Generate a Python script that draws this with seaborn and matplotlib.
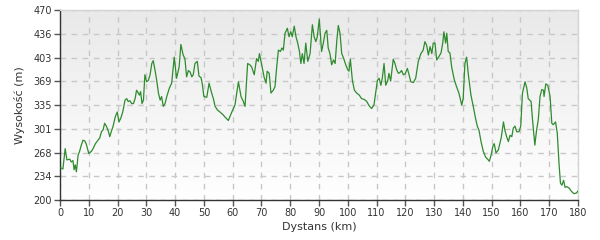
import numpy as np
import pandas as pd
import matplotlib
matplotlib.use("Agg")
import matplotlib.pyplot as plt
from matplotlib.colors import LinearSegmentedColormap
import seaborn as sns

dist_km = [
    0.2, 1.0, 1.8, 2.4, 3.4, 3.9, 4.5, 4.9, 5.3, 5.7, 6.3, 6.8, 7.4, 8.0, 8.6, 9.1, 10.0, 10.9, 11.5, 12.3,
    13.2, 13.8, 14.4, 15.0, 15.5, 16.1, 16.7, 17.3, 17.8, 18.4, 19.2, 19.9, 20.5,
    21.1, 21.8, 22.6, 23.2, 23.7, 24.3, 24.9, 25.5, 26.1, 26.6, 27.2, 27.6, 28.0, 28.5, 29.0, 29.5, 30.1,
    30.7, 31.3, 31.9, 32.4, 33.0, 33.6, 34.2, 34.8, 35.3, 35.9, 36.5, 37.1, 38.0,
    38.8, 39.7, 40.5, 41.4, 42.0, 42.8, 43.4, 44.0, 44.6, 45.2, 45.8, 46.3, 46.9, 47.7, 48.3, 49.0, 49.4,
    50.0, 51.0, 51.8, 52.7, 53.3, 53.9, 54.7, 55.6, 56.7,
    57.3, 58.5, 59.7, 60.8, 62.0, 62.9, 63.7, 64.3, 65.2, 66.0, 66.6, 67.5, 68.3, 68.9, 69.3, 70.1, 70.9,
    71.6, 72.0, 72.7, 73.3, 74.1, 74.7, 75.3, 75.9, 76.6, 77.1, 77.6, 78.2, 79.0, 79.6, 80.2, 80.7, 81.4,
    82.0, 82.6, 83.2, 83.7, 84.2, 84.8, 85.4, 86.1, 86.9, 87.7, 88.3, 88.9, 89.4, 90.1, 90.9, 91.5, 92.1,
    92.7, 93.2, 93.8, 94.4, 95.0, 95.6, 96.2, 96.7, 97.3, 97.9, 98.6, 99.3, 100.0, 100.4, 100.9, 101.6,
    102.3, 103.1, 104.0, 104.8, 105.7, 106.6, 107.4, 108.3, 109.1, 109.7, 110.3, 110.9, 111.5, 112.0,
    112.6, 113.2, 113.9, 114.3, 114.9, 115.8,
    116.4, 117.0, 117.6, 118.1, 118.7, 119.3, 119.9, 120.7, 121.3, 121.9, 122.8, 123.6, 124.5, 125.4,
    126.2, 126.8, 127.4, 128.0, 128.6, 129.2, 129.7, 130.3, 130.9, 131.7, 132.4, 133.0, 133.4, 134.0,
    134.4, 134.9, 135.5, 136.1, 137.0, 137.8, 138.6, 139.6, 140.1, 140.7, 141.3, 141.9, 142.8, 143.6,
    144.4, 145.0, 145.6, 146.3, 147.1, 147.9, 148.6, 149.2, 149.8, 150.4, 150.9, 151.5, 152.3, 153.3,
    154.1, 154.6, 155.2, 155.8, 156.4, 157.0, 157.5, 158.1, 158.7, 159.5, 160.1, 160.7, 161.6, 162.2,
    162.7, 163.7, 164.2, 165.0, 165.6, 166.2, 166.8, 167.4, 168.0, 168.2, 168.8, 169.5, 170.3, 170.9,
    171.4, 172.2, 172.8, 173.4, 173.9, 174.4, 175.0, 175.5, 176.1, 176.9, 177.8, 178.6, 179.5, 180.0,
]
elev_m = [
    246, 244, 273, 257, 258, 254, 256, 243, 250, 240, 264, 269, 278, 285, 284, 280, 266, 269, 273, 280,
    285, 288, 297, 300, 309, 305, 299, 290, 297, 304, 318, 325, 311,
    316, 325, 342, 344, 340, 341, 337, 337, 344, 356, 352, 349, 354, 337, 342, 378, 368,
    370, 378, 394, 398, 385, 370, 352, 342, 347, 333, 337, 347, 359,
    366, 403, 373, 389, 421, 406, 401, 375, 384, 382, 375, 378, 394, 397, 376, 374, 366,
    347, 346, 366, 352, 344, 333, 328, 325, 321,
    318, 313, 325, 335, 368, 347, 340, 333, 394, 392, 389, 378, 401, 397, 408, 392, 375,
    366, 383, 380, 352, 356, 361, 389, 413, 411, 416, 413, 437, 444, 432, 439, 432, 447,
    432, 423, 411, 394, 408, 394, 423, 397, 408, 449, 432, 425, 432, 457, 411, 423, 437,
    441, 416, 408, 392, 399, 394, 427, 448, 437, 408, 401, 392, 385, 383, 400, 370,
    356, 352, 349, 344, 343, 340, 334, 330, 335, 352, 370, 373, 363, 373,
    394, 363, 370, 380, 369, 400,
    394, 385, 380, 381, 384, 378, 379, 387, 378, 368, 367, 373, 397, 408,
    413, 425, 420, 406, 418, 408, 423, 423, 399, 404, 409, 423, 439, 423,
    437, 411, 409, 389, 371, 361, 352, 335, 344, 394, 403, 378, 349, 333,
    316, 305, 299, 283, 269, 261, 258, 255, 264, 276, 280, 267, 271, 288,
    311, 299, 290, 283, 292, 290, 302, 305, 297, 297, 305, 352, 368, 359,
    344, 340, 314, 278, 299, 314, 347, 357, 356, 347, 365, 363, 347, 309,
    307, 311, 295, 252, 224, 221, 228, 218, 219, 217, 212, 209, 210, 213,
]
x_ticks = list(range(0, 181, 10))
y_tick_labels = ["200", "234", "268", "301", "335", "369", "403", "436", "470"]

df = pd.DataFrame({"Dystans": dist_km, "Wysokosc": elev_m})

sns.set_theme(style="white")
plt.rcParams["font.family"] = ["DejaVu Sans"]

fig = plt.figure(figsize=(6, 2.4), dpi=100)
ax = fig.add_axes([60 / 600, 40 / 240, 518 / 600, 190 / 240])

cmap = LinearSegmentedColormap.from_list("bg", ["#ffffff", "#e9e9e9"])
grad = np.linspace(0, 1, 256)[:, None]
ax.imshow(grad, extent=[0, 1, 0, 1], transform=ax.transAxes, aspect="auto",
          cmap=cmap, origin="lower", zorder=0, interpolation="bicubic")

sns.lineplot(data=df, x="Dystans", y="Wysokosc", ax=ax, color="#2e8b2e",
             linewidth=0.9, zorder=3, estimator=None, sort=False)

ax.set_xlim(0, 180)
ax.set_ylim(200, 470)
ax.set_xticks(x_ticks)
ax.set_xticklabels([str(t) for t in x_ticks])
y_ticks = np.linspace(200, 470, len(y_tick_labels))
ax.set_yticks(y_ticks)
ax.set_yticklabels(y_tick_labels)

ax.grid(True, color="#c8c8c8", linestyle=(0, (4, 4)), linewidth=1.0, zorder=1)
ax.set_axisbelow(True)

for side in ["top", "right"]:
    ax.spines[side].set_color("#d4d4d4")
    ax.spines[side].set_linewidth(1.0)
for side in ["left", "bottom"]:
    ax.spines[side].set_color("#333333")
    ax.spines[side].set_linewidth(1.0)

ax.tick_params(axis="both", which="major", direction="out", length=4, width=1,
               color="#555555", labelsize=7, labelcolor="#333333", pad=2, left=True, bottom=True)

ax.set_xlabel("Dystans (km)", fontsize=8, color="#333333", labelpad=3)
ax.set_ylabel("Wysokość (m)", fontsize=8, color="#333333", labelpad=6)

fig.savefig("out.png", dpi=100)
